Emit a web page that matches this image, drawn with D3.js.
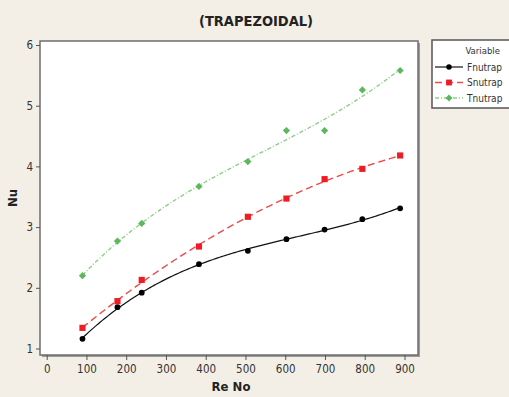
<html>
<head>
<style>
  body { margin: 0; background: #f3efe6; }
  svg { display: block; }
</style>
<script src="https://d3js.org/d3.v7.min.js"></script>
</head>
<body>
<script>
const reNo = [90, 178, 239, 383, 506, 603, 699, 794, 889];
const fnutrap = [1.16, 1.68, 1.92, 2.39, 2.61, 2.80, 2.96, 3.13, 3.31];
const snutrap = [1.34, 1.78, 2.13, 2.68, 3.17, 3.47, 3.79, 3.96, 4.18];
const tnutrap = [2.20, 2.77, 3.06, 3.67, 4.08, 4.59, 4.59, 5.26, 5.58];
const seriesNames = ["Fnutrap", "Snutrap", "Tnutrap"];
const xTicks = [0, 100, 200, 300, 400, 500, 600, 700, 800, 900];
const yTicks = [1, 2, 3, 4, 5, 6];

const w = 509, h = 397;
const svg = d3.select("body").append("svg").attr("width", w).attr("height", h);

const x = d3.scaleLinear().domain([0, 900]).range([46.7, 404.5]);
const y = d3.scaleLinear().domain([1, 6]).range([348.5, 45]);

// plot frame
svg.append("rect").attr("x", 42).attr("y", 43).attr("width", 378).attr("height", 314).attr("fill", "#9a9a9a");
svg.append("rect").attr("x", 40).attr("y", 41).attr("width", 378).attr("height", 314)
  .attr("fill", "#fff").attr("stroke", "#6e6e6e").attr("stroke-width", 1.5);

const tickColor = "#555";
const xAxis = svg.append("g").attr("transform", "translate(0,355)")
  .call(d3.axisBottom(x).tickValues(xTicks).tickSize(5).tickPadding(5));
const yAxis = svg.append("g").attr("transform", "translate(40,0)")
  .call(d3.axisLeft(y).tickValues(yTicks).tickFormat(d3.format("d")).tickSize(4).tickPadding(3));
[xAxis, yAxis].forEach(g => {
  g.select(".domain").remove();
  g.selectAll("line").attr("stroke", tickColor);
  g.selectAll("text").attr("fill", "#333").style("font-family", "DejaVu Sans Condensed")
    .style("font-size", "11.5px");
});

// cubic least squares fit of each series (x scaled by 1/1000)
function polyFit(xs, ys, deg) {
  const n = deg + 1;
  const A = d3.range(n).map(() => new Array(n + 1).fill(0));
  xs.forEach((xv, i) => {
    const u = xv / 1000;
    for (let r = 0; r < n; r++) {
      for (let c = 0; c < n; c++) A[r][c] += Math.pow(u, r + c);
      A[r][n] += ys[i] * Math.pow(u, r);
    }
  });
  for (let i = 0; i < n; i++) {
    for (let j = i + 1; j < n; j++) {
      const f = A[j][i] / A[i][i];
      for (let k = i; k <= n; k++) A[j][k] -= f * A[i][k];
    }
  }
  const c = new Array(n).fill(0);
  for (let i = n - 1; i >= 0; i--) {
    let v = A[i][n];
    for (let k = i + 1; k < n; k++) v -= A[i][k] * c[k];
    c[i] = v / A[i][i];
  }
  return xv => c.reduce((s, ck, k) => s + ck * Math.pow(xv / 1000, k), 0);
}

const diamond = d3.symbolSquare;
const styles = [
  { vals: fnutrap, line: "#111", mark: "#000", dash: null, shape: d3.symbolCircle, size: 26, lw: 1.2, rot: 0 },
  { vals: snutrap, line: "#f04848", mark: "#ee1c24", dash: "7,4", shape: d3.symbolSquare, size: 38, lw: 1.4, rot: 0 },
  { vals: tnutrap, line: "#8ccf84", mark: "#5cb85c", dash: "4,2,1,2", shape: diamond, size: 26, lw: 1.4, rot: 45 }
];

const line = d3.line().x(d => x(d[0])).y(d => y(d[1]));
styles.forEach(s => {
  const fit = polyFit(reNo, s.vals, 3);
  const xs = d3.range(reNo[0], reNo[reNo.length - 1] + 1, 5);
  svg.append("path").datum(xs.map(v => [v, fit(v)]))
    .attr("d", line).attr("fill", "none").attr("stroke", s.line)
    .attr("stroke-width", s.lw).attr("stroke-dasharray", s.dash);
  svg.selectAll(null).data(reNo.map((v, i) => [v, s.vals[i]])).enter().append("path")
    .attr("d", d3.symbol().type(s.shape).size(s.size))
    .attr("transform", d => `translate(${x(d[0])},${y(d[1])}) rotate(${s.rot})`)
    .attr("fill", s.mark);
});

// title and axis labels
svg.append("text").attr("x", 256).attr("y", 26).attr("text-anchor", "middle")
  .style("font-family", "DejaVu Sans Condensed").style("font-weight", "bold").style("font-size", "14.5px")
  .attr("fill", "#222").text("(TRAPEZOIDAL)");
svg.append("text").attr("x", 231).attr("y", 391).attr("text-anchor", "middle")
  .style("font-family", "DejaVu Sans Condensed").style("font-weight", "bold").style("font-size", "13px")
  .attr("fill", "#222").text("Re No");
svg.append("text").attr("transform", "translate(17,198) rotate(-90)").attr("text-anchor", "middle")
  .style("font-family", "DejaVu Sans Condensed").style("font-weight", "bold").style("font-size", "13px")
  .attr("fill", "#222").text("Nu");

// legend
const lg = svg.append("g");
lg.append("rect").attr("x", 432).attr("y", 40).attr("width", 90).attr("height", 68)
  .attr("fill", "#fff").attr("stroke", "#555").attr("stroke-width", 1.5);
lg.append("text").attr("x", 500).attr("y", 54).attr("text-anchor", "end")
  .style("font-family", "DejaVu Sans Condensed").style("font-size", "9.5px").attr("fill", "#333").text("Variable");
styles.forEach((s, i) => {
  const ly = 67 + i * 15.5;
  lg.append("line").attr("x1", 435).attr("x2", 463).attr("y1", ly).attr("y2", ly)
    .attr("stroke", s.line).attr("stroke-width", s.lw).attr("stroke-dasharray", s.dash);
  lg.append("path").attr("d", d3.symbol().type(s.shape).size(s.size * 0.9))
    .attr("transform", `translate(449,${ly}) rotate(${s.rot})`).attr("fill", s.mark);
  lg.append("text").attr("x", 467).attr("y", ly + 3.5)
    .style("font-family", "DejaVu Sans Condensed").style("font-size", "10px").attr("fill", "#333").text(seriesNames[i]);
});
</script>
</body>
</html>
